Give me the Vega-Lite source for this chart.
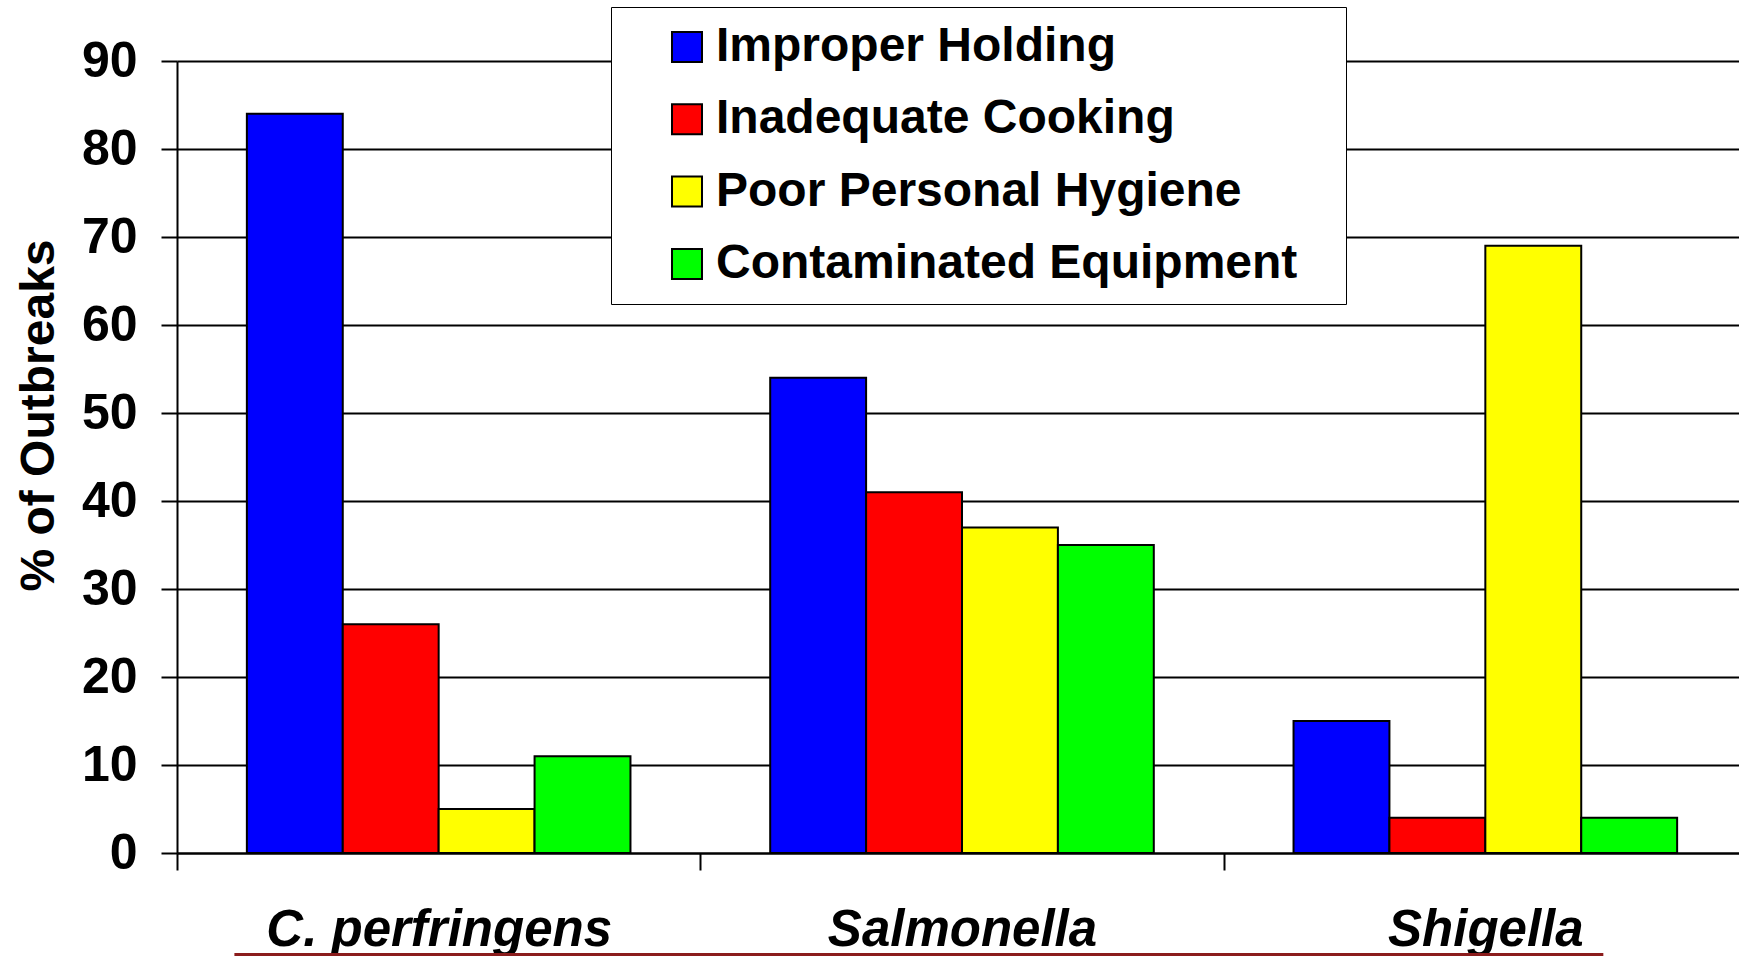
{
  "$schema": "https://vega.github.io/schema/vega-lite/v6.json",
  "width": 1570,
  "height": 792,
  "autosize": {"type": "none"},
  "padding": {"left": 177, "top": 61, "right": -8, "bottom": 103},
  "background": "white",
  "config": {"view": {"stroke": null}, "font": "Liberation Sans"},
  "data": {
    "values": [
      {"organism": "C. perfringens", "cause": "Improper Holding", "pct": 84},
      {"organism": "C. perfringens", "cause": "Inadequate Cooking", "pct": 26},
      {"organism": "C. perfringens", "cause": "Poor Personal Hygiene", "pct": 5},
      {"organism": "C. perfringens", "cause": "Contaminated Equipment", "pct": 11},
      {"organism": "Salmonella", "cause": "Improper Holding", "pct": 54},
      {"organism": "Salmonella", "cause": "Inadequate Cooking", "pct": 41},
      {"organism": "Salmonella", "cause": "Poor Personal Hygiene", "pct": 37},
      {"organism": "Salmonella", "cause": "Contaminated Equipment", "pct": 35},
      {"organism": "Shigella", "cause": "Improper Holding", "pct": 15},
      {"organism": "Shigella", "cause": "Inadequate Cooking", "pct": 4},
      {"organism": "Shigella", "cause": "Poor Personal Hygiene", "pct": 69},
      {"organism": "Shigella", "cause": "Contaminated Equipment", "pct": 4}
    ]
  },
  "layer": [
    {
      "mark": {"type": "bar", "stroke": "black", "strokeWidth": 2},
      "encoding": {
        "x": {
          "field": "organism",
          "type": "nominal",
          "sort": ["C. perfringens", "Salmonella", "Shigella"],
          "scale": {"paddingInner": 0.267, "paddingOuter": 0.1335},
          "axis": {
            "title": null,
            "labelAngle": 0,
            "labelFontSize": 51,
            "labelFontWeight": "bold",
            "labelFontStyle": "italic",
            "labelColor": "black",
            "labelBaseline": "alphabetic",
            "labelPadding": 75,
            "labelLimit": 1000,
            "tickOffset": -261.67,
            "labelOffset": 261.67,
            "tickSize": 17,
            "tickWidth": 2,
            "tickColor": "black",
            "domainColor": "black",
            "domainWidth": 2,
            "grid": false
          }
        },
        "xOffset": {
          "field": "cause",
          "sort": ["Improper Holding", "Inadequate Cooking", "Poor Personal Hygiene", "Contaminated Equipment"],
          "scale": {"paddingInner": 0, "paddingOuter": 0}
        },
        "y": {
          "field": "pct",
          "type": "quantitative",
          "scale": {"domain": [0, 90], "nice": false},
          "axis": {
            "title": "% of Outbreaks",
            "values": [0, 10, 20, 30, 40, 50, 60, 70, 80, 90],
            "grid": true,
            "gridColor": "black",
            "gridWidth": 2,
            "gridOpacity": 1,
            "domainColor": "black",
            "domainWidth": 2,
            "tickColor": "black",
            "tickWidth": 2,
            "tickSize": 16,
            "labelFontSize": 50,
            "labelFontWeight": "bold",
            "labelColor": "black",
            "labelPadding": 24,
            "labelFlush": false,
            "labelOverlap": false,
            "titleFontSize": 48,
            "titleFontWeight": "bold",
            "titleColor": "black",
            "titleX": -124,
            "titleY": 354,
            "titleAngle": 270,
            "titleBaseline": "alphabetic"
          }
        },
        "color": {
          "field": "cause",
          "type": "nominal",
          "sort": ["Improper Holding", "Inadequate Cooking", "Poor Personal Hygiene", "Contaminated Equipment"],
          "scale": {
            "domain": ["Improper Holding", "Inadequate Cooking", "Poor Personal Hygiene", "Contaminated Equipment"],
            "range": ["#0000FF", "#FF0000", "#FFFF00", "#00FF00"]
          },
          "legend": {
            "orient": "none",
            "legendX": 434,
            "legendY": -54,
            "title": " ",
            "titleOrient": "right",
            "titlePadding": 33,
            "titleFontSize": 10,
            "padding": 16,
            "strokeColor": "black",
            "fillColor": "white",
            "symbolType": "square",
            "symbolSize": 900,
            "symbolStrokeColor": "black",
            "symbolStrokeWidth": 2,
            "symbolOpacity": 1,
            "symbolOffset": 36,
            "labelFontSize": 48,
            "labelFontWeight": "bold",
            "labelColor": "black",
            "labelOffset": 5,
            "rowPadding": 24.3,
            "labelLimit": 1000
          }
        }
      }
    },
    {
      "mark": {"type": "rule", "color": "#8B1C1C", "strokeWidth": 4},
      "encoding": {
        "x": {"datum": 0.0369, "type": "quantitative", "scale": {"domain": [0, 1]}, "axis": null},
        "x2": {"datum": 0.9083},
        "y": {"datum": -11.6, "type": "quantitative"}
      }
    }
  ],
  "resolve": {"scale": {"x": "independent"}}
}
